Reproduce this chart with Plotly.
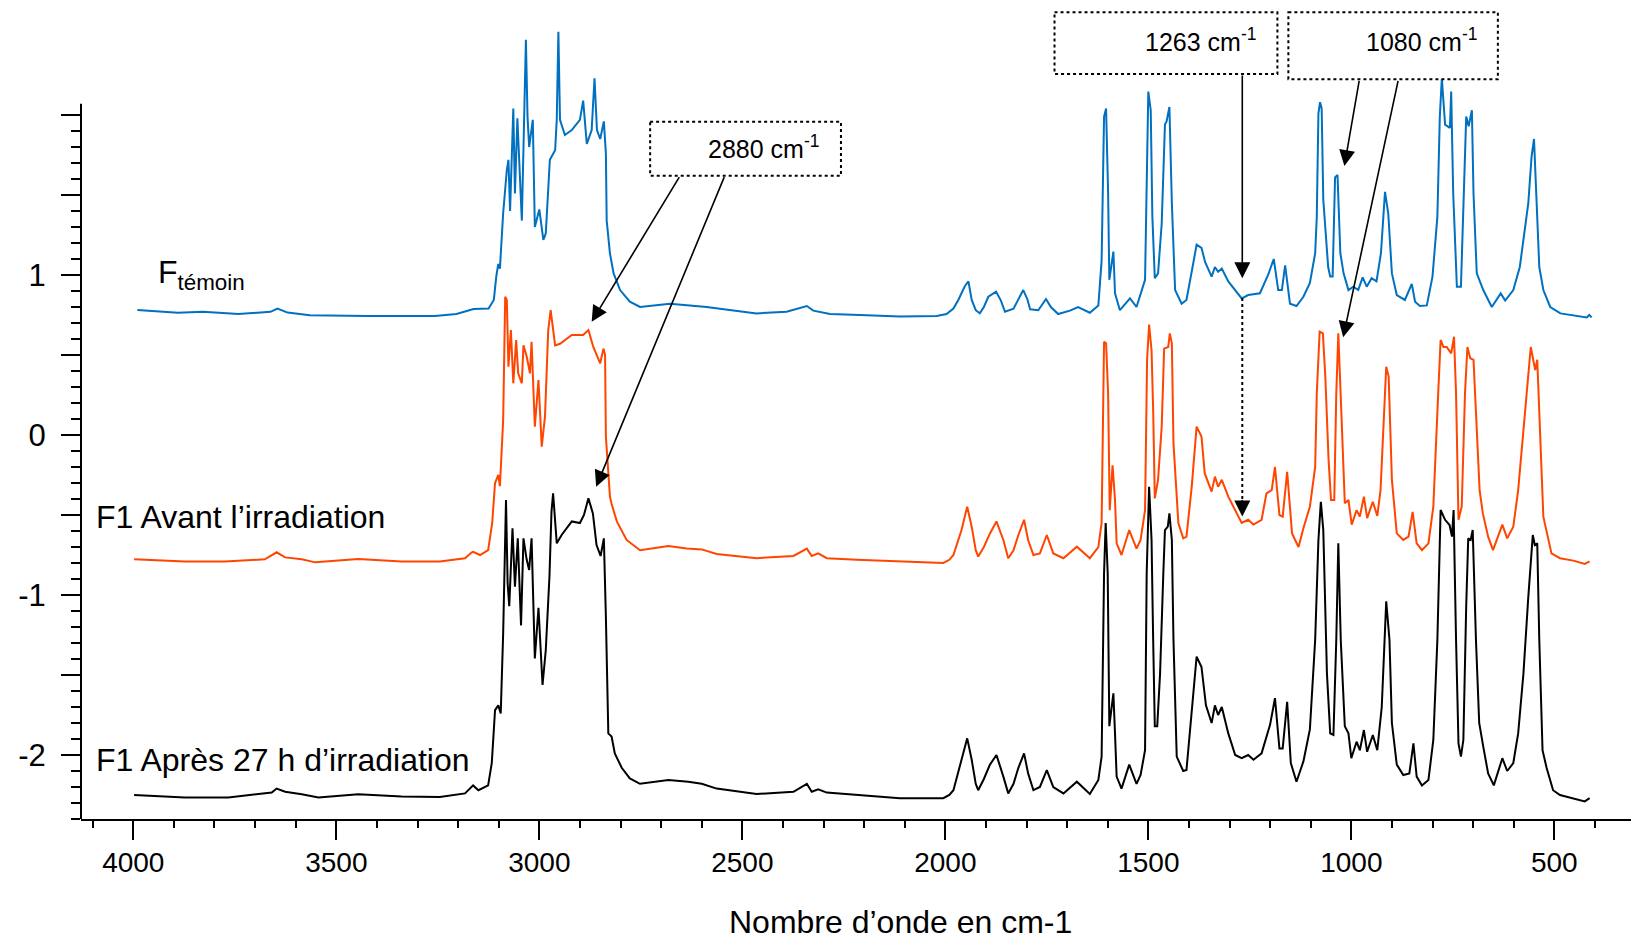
import plotly.graph_objects as go

# ---------------- data ----------------
wn_temoin = [3990, 3890, 3829, 3741, 3662, 3645, 3620, 3565, 3424, 3257, 3204, 3162, 3125, 3112, 3106,
             3101, 3097, 3089, 3080, 3076, 3072, 3064, 3060, 3054, 3043, 3033, 3029, 3025, 3016, 3011,
             3000, 2990, 2984, 2974, 2961, 2957, 2953, 2949, 2937, 2920, 2900, 2892, 2883, 2871, 2864,
             2858, 2850, 2841, 2836, 2834, 2826, 2817, 2801, 2777, 2752, 2678, 2588, 2465, 2391, 2341,
             2325, 2284, 2210, 2112, 2021, 1997, 1980, 1968, 1952, 1943, 1935, 1925, 1915, 1905, 1894, 1875,
             1863, 1853, 1832, 1818, 1808, 1798, 1791, 1771, 1752, 1740, 1722, 1693, 1673, 1644, 1623, 1615,
             1609, 1604, 1599, 1596, 1591,
             1586, 1582, 1570, 1545, 1529, 1508, 1504, 1500, 1494, 1490, 1484, 1476, 1467, 1459, 1455,
             1448, 1442, 1434, 1418, 1406, 1391, 1381, 1369, 1360, 1344, 1336, 1328, 1319, 1303, 1270,
             1254, 1225, 1205, 1191, 1180, 1171, 1163, 1151, 1135, 1118, 1102, 1089, 1085, 1081, 1077,
             1073, 1069, 1057, 1052, 1046, 1040, 1034, 1027, 1019, 1007, 995, 983, 972, 962, 950,
             938, 927, 917, 909, 900, 888, 868, 857, 851, 843, 831, 814, 800, 788, 782,
             777, 769, 757, 754, 749, 740, 730, 724, 717, 711, 703, 699, 691, 675, 654,
             632, 621, 601, 585, 564, 556, 550, 544, 537, 527, 510, 485, 447, 420, 414, 408]
abs_temoin = [0.781, 0.764, 0.77, 0.756, 0.77, 0.79, 0.765, 0.748, 0.744, 0.744, 0.756, 0.788, 0.79, 0.844, 0.99,
              1.07, 1.04, 1.386, 1.656, 1.72, 1.40, 2.04, 1.51, 1.98, 1.34, 2.47, 1.99, 1.80, 1.97, 1.30,
              1.41, 1.22, 1.26, 1.72, 1.78, 1.97, 2.52, 1.97, 1.875, 1.906, 1.97, 2.09, 1.82, 1.906, 2.23,
              1.906, 1.85, 1.96, 1.76, 1.34, 1.136, 1.01, 0.906, 0.833, 0.80, 0.82, 0.80, 0.76, 0.77, 0.806,
              0.777, 0.756, 0.75, 0.74, 0.744, 0.756, 0.79, 0.844, 0.93, 0.96, 0.844, 0.78, 0.76, 0.80, 0.864, 0.896,
              0.84, 0.77, 0.79, 0.86, 0.906, 0.85, 0.786, 0.78, 0.85, 0.80, 0.756, 0.777, 0.80, 0.764, 0.81, 1.09,
              1.99, 2.04, 1.51, 0.97, 1.05,
              1.146, 0.886, 0.78, 0.854, 0.80, 0.97, 1.51, 2.146, 2.03, 1.365, 0.98, 1.01, 1.32, 1.94, 1.96,
              2.05, 1.45, 0.906, 0.82, 0.844, 1.05, 1.19, 1.17, 1.08, 0.99, 1.05, 1.02, 1.04, 0.96, 0.854,
              0.875, 0.886, 1.0, 1.10, 0.906, 0.906, 1.06, 0.82, 0.806, 0.864, 0.95, 1.136, 1.365, 2.01, 2.08,
              2.04, 1.47, 1.05, 0.99, 0.99, 1.61, 1.625, 1.136, 1.01, 0.906, 0.927, 0.906, 0.985, 0.927, 0.98,
              0.96, 1.136, 1.52, 1.386, 1.01, 0.875, 0.844, 0.906, 0.944, 0.833, 0.806, 0.81, 0.99, 1.365, 1.99,
              2.23, 1.94, 1.92, 2.146, 1.51, 0.927, 0.927, 1.406, 1.99, 1.93, 2.03, 1.51, 1.01, 0.906, 0.80,
              0.885, 0.84, 0.906, 1.05, 1.45, 1.74, 1.85, 1.51, 1.05, 0.906, 0.80, 0.76, 0.744, 0.735, 0.75, 0.735]

wn_avant = [3998, 3873, 3774, 3676, 3647, 3626, 3585, 3552, 3446, 3339, 3245, 3183, 3167, 3163, 3146,
            3126, 3116, 3109, 3101, 3097, 3089, 3084, 3080, 3076, 3070, 3064, 3057, 3052, 3043, 3039,
            3031, 3023, 3019, 3011, 3002, 2994, 2986, 2978, 2972, 2961, 2949, 2920, 2892, 2879, 2867,
            2858, 2850, 2842, 2838, 2836, 2830, 2826, 2822, 2809, 2785, 2752, 2682, 2637, 2600, 2563,
            2465, 2374, 2341, 2329, 2313, 2292, 2218, 2112, 2005, 1990, 1980, 1960, 1946, 1935, 1925, 1919, 1905, 1890,
            1874, 1857, 1845, 1832, 1820, 1806, 1796, 1783, 1767, 1750, 1734, 1709, 1676, 1644, 1623, 1615,
            1609, 1604, 1599, 1595, 1588, 1582, 1578, 1566, 1547, 1529, 1519, 1508, 1503, 1498, 1492,
            1488, 1484, 1476, 1467, 1461, 1451, 1447, 1442, 1438, 1434, 1426, 1414, 1406, 1393, 1381,
            1369, 1361, 1344, 1336, 1328, 1319, 1303, 1291, 1270, 1254, 1241, 1221, 1209, 1196, 1188,
            1177, 1169, 1158, 1146, 1130, 1118, 1102, 1089, 1085, 1078, 1070, 1064, 1056, 1050, 1042,
            1037, 1032, 1026, 1016, 1007, 999, 987, 979, 969, 961, 947, 936, 928, 921, 914,
            908, 900, 888, 872, 859, 849, 839, 826, 810, 798, 786, 780, 773, 765, 754,
            747, 742, 736, 728, 720, 714, 707, 699, 692, 684, 676, 663, 651, 638, 628,
            616, 601, 589, 568, 558, 552, 547, 542, 535, 527, 507, 486, 453, 425, 413]
abs_avant = [-0.777, -0.79, -0.79, -0.777, -0.733, -0.765, -0.777, -0.796, -0.775, -0.79, -0.79, -0.77, -0.735, -0.73, -0.75,
             -0.72, -0.55, -0.30, -0.25, -0.32, 0.094, 0.864, 0.844, 0.427, 0.656, 0.323, 0.594, 0.385, 0.323, 0.56,
             0.49, 0.385, 0.583, 0.052, 0.344, -0.073, 0.115, 0.656, 0.78, 0.56, 0.57, 0.625, 0.625, 0.656, 0.55,
             0.49, 0.448, 0.54, 0.50, -0.01, -0.22, -0.385, -0.43, -0.54, -0.656, -0.72, -0.694, -0.71, -0.715, -0.744,
             -0.77, -0.756, -0.71, -0.756, -0.74, -0.77, -0.78, -0.79, -0.80, -0.78, -0.75, -0.594, -0.448, -0.573, -0.72, -0.76, -0.70, -0.615,
             -0.54, -0.656, -0.77, -0.72, -0.625, -0.53, -0.656, -0.75, -0.74, -0.625, -0.74, -0.77, -0.698, -0.77, -0.70, -0.55,
             0.583, 0.573, 0.26, -0.47, -0.19, -0.406, -0.677, -0.75, -0.594, -0.71, -0.656, -0.47, 0.47, 0.69, 0.53,
             0.156, -0.396, -0.28, 0.052, 0.54, 0.55, 0.635, 0.573, -0.05, -0.24, -0.55, -0.646, -0.635, -0.323, 0.052,
             -0.01, -0.24, -0.354, -0.26, -0.323, -0.28, -0.385, -0.448, -0.55, -0.53, -0.56, -0.53, -0.365, -0.344, -0.2,
             -0.5, -0.51, -0.23, -0.615, -0.70, -0.583, -0.448, -0.2, 0.26, 0.646, 0.635, 0.365, -0.156, -0.406, -0.406,
             0.26, 0.635, 0.26, -0.427, -0.406, -0.56, -0.47, -0.51, -0.385, -0.52, -0.417, -0.506, -0.344, 0.052, 0.427,
             0.365, -0.28, -0.615, -0.656, -0.635, -0.48, -0.677, -0.72, -0.677, -0.448, 0.26, 0.594, 0.55, 0.55, 0.51,
             0.614, 0.26, -0.53, -0.448, 0.26, 0.55, 0.48, 0.47, 0.052, -0.344, -0.49, -0.635, -0.72, -0.635, -0.56,
             -0.646, -0.573, -0.344, 0.26, 0.55, 0.47, 0.406, 0.47, 0.052, -0.51, -0.74, -0.77, -0.785, -0.806, -0.79]

wn_apres = [3998, 3873, 3766, 3659, 3647, 3626, 3585, 3544, 3446, 3339, 3245, 3183, 3163, 3150, 3126,
            3117, 3109, 3101, 3095, 3089, 3082, 3078, 3074, 3066, 3060, 3053, 3045, 3039, 3031, 3025,
            3019, 3011, 3002, 2992, 2984, 2975, 2970, 2966, 2957, 2945, 2920, 2900, 2890, 2879, 2868,
            2859, 2849, 2841, 2836, 2830, 2822, 2814, 2797, 2777, 2752, 2682, 2633, 2600, 2563, 2465,
            2374, 2341, 2329, 2313, 2292, 2218, 2112, 2005, 1990, 1980, 1960, 1946, 1935, 1925, 1919, 1905, 1890, 1874,
            1857, 1845, 1832, 1820, 1806, 1796, 1783, 1767, 1750, 1734, 1709, 1676, 1644, 1623, 1615, 1609,
            1605, 1600, 1596, 1590, 1586, 1582, 1578, 1566, 1547, 1529, 1519, 1508, 1504, 1498, 1492,
            1488, 1484, 1478, 1471, 1463, 1459, 1452, 1448, 1442, 1438, 1430, 1414, 1406, 1393, 1381,
            1369, 1358, 1344, 1336, 1328, 1319, 1303, 1286, 1270, 1254, 1241, 1221, 1200, 1188, 1177,
            1169, 1158, 1149, 1135, 1118, 1102, 1089, 1081, 1075, 1069, 1060, 1052, 1044, 1037, 1032,
            1026, 1016, 1007, 1000, 987, 979, 969, 961, 947, 936, 925, 914, 906, 900, 888,
            872, 857, 847, 839, 826, 810, 798, 788, 780, 769, 758, 752, 748, 742, 736,
            730, 724, 717, 712, 706, 701, 693, 685, 675, 663, 649, 638, 628, 616, 601,
            589, 576, 564, 553, 548, 542, 537, 529, 519, 503, 486, 453, 425, 413]
abs_apres = [-2.25, -2.265, -2.265, -2.235, -2.21, -2.23, -2.245, -2.265, -2.245, -2.26, -2.262, -2.24, -2.19, -2.22, -2.19,
             -2.05, -1.72, -1.69, -1.74, -1.24, -0.406, -0.927, -1.07, -0.583, -0.948, -0.646, -1.19, -0.646, -0.78, -0.844,
             -0.646, -1.396, -1.08, -1.5625, -1.344, -0.885, -0.48, -0.365, -0.677, -0.625, -0.54, -0.55, -0.50, -0.396, -0.49,
             -0.6875, -0.756, -0.646, -1.136, -1.865, -1.885, -1.99, -2.08, -2.146, -2.18, -2.156, -2.167, -2.18, -2.21, -2.244,
             -2.23, -2.18, -2.23, -2.215, -2.235, -2.25, -2.27, -2.27, -2.25, -2.22, -2.03, -1.896, -2.03, -2.18, -2.22, -2.15, -2.06, -2.0,
             -2.135, -2.24, -2.18, -2.08, -1.99, -2.115, -2.22, -2.2, -2.094, -2.2, -2.24, -2.167, -2.244, -2.156, -2.01, -0.865,
             -0.55, -0.865, -1.82, -1.70, -1.615, -1.865, -2.135, -2.21, -2.06, -2.18, -2.125, -1.97, -0.865, -0.323, -0.656,
             -1.28, -1.82, -1.82, -1.49, -0.865, -0.594, -0.573, -0.49, -0.656, -1.28, -2.01, -2.1, -2.094, -1.72, -1.385,
             -1.45, -1.69, -1.80, -1.69, -1.75, -1.70, -1.865, -2.0, -2.02, -2.0, -2.03, -1.99, -1.81, -1.645, -1.96,
             -1.96, -1.667, -2.05, -2.167, -2.04, -1.84, -1.28, -0.656, -0.417, -0.594, -1.49, -1.865, -1.875, -1.28, -0.677,
             -1.28, -1.82, -1.865, -2.02, -1.917, -1.97, -1.844, -1.98, -1.875, -1.97, -1.70, -1.04, -1.28, -1.80, -2.06,
             -2.125, -2.115, -1.927, -2.135, -2.19, -2.156, -1.906, -1.28, -0.469, -0.53, -0.5625, -0.635, -0.469, -1.28, -1.927,
             -2.01, -1.906, -1.07, -0.646, -0.656, -0.594, -1.28, -1.80, -1.948, -2.115, -2.19, -2.094, -2.02, -2.10, -2.05,
             -1.865, -1.49, -1.01, -0.625, -0.6875, -0.677, -1.28, -1.97, -2.08, -2.22, -2.25, -2.27, -2.29, -2.27]

x_major_ticks = [4000, 3500, 3000, 2500, 2000, 1500, 1000, 500]
y_major_ticks = [-2, -1.5, -1, -0.5, 0, 0.5, 1, 1.5, 2]
y_tick_text = ["-2", " ", "-1", " ", "0", " ", "1", " ", " "]

series_labels = ["F<sub>témoin</sub>", "F1 Avant l\u2019irradiation", "F1 Après 27 h d\u2019irradiation"]
series_colors = ["#0070C0", "#FF4500", "#000000"]

# annotation geometry (data units)
box_2880 = [2727, 2257, 1.958, 1.621]
box_1263 = [1731, 1182, 2.642, 2.256]
box_1080 = [1155, 639, 2.642, 2.223]

X_RANGE = [4128.8, 311.1]
Y_RANGE = [-2.4, 2.71875]

fig = go.Figure()
for wn, ab, col in [(wn_temoin, abs_temoin, series_colors[0]),
                    (wn_avant, abs_avant, series_colors[1]),
                    (wn_apres, abs_apres, series_colors[2])]:
    fig.add_trace(go.Scatter(x=wn, y=ab, mode="lines", line=dict(color=col, width=2),
                             showlegend=False, hoverinfo="skip"))

FONT = "Liberation Sans, Arial, sans-serif"

fig.update_layout(
    width=1631, height=941,
    margin=dict(l=81, r=0, t=0, b=122),
    plot_bgcolor="white", paper_bgcolor="white",
    font=dict(family=FONT, color="black"),
)
fig.update_xaxes(
    range=X_RANGE, tickmode="array", tickvals=x_major_ticks,
    ticks="outside", ticklen=19, tickwidth=2, tickcolor="black",
    showline=True, linewidth=2, linecolor="black", mirror=False,
    showgrid=False, zeroline=False,
    tickfont=dict(size=28, family=FONT), ticklabelstandoff=-2,
    minor=dict(tickmode="array", tickvals=list(range(4100, 300, -100)),
               ticks="outside", ticklen=7, tickwidth=1.5, tickcolor="black", showgrid=False),
)
fig.update_yaxes(
    range=Y_RANGE, tickmode="array", tickvals=y_major_ticks, ticktext=y_tick_text,
    ticks="outside", ticklen=19, tickwidth=2, tickcolor="black",
    showline=False, showgrid=False, zeroline=False,
    tickfont=dict(size=31, family=FONT), ticklabelstandoff=9,
    minor=dict(tickmode="array", tickvals=[round(-2.4 + 0.1 * i, 1) for i in range(45)],
               ticks="outside", ticklen=9, tickwidth=1.5, tickcolor="black", showgrid=False),
)

shapes = []
# y axis line (stops below the top of the plot)
shapes.append(dict(type="line", xref="paper", yref="y", x0=0, x1=0, y0=Y_RANGE[0], y1=2.07,
                   line=dict(color="black", width=2)))
for b in (box_2880, box_1263, box_1080):
    shapes.append(dict(type="rect", xref="x", yref="y", x0=b[0], x1=b[1], y0=b[2], y1=b[3],
                       line=dict(color="black", width=2, dash="dot"), fillcolor="white", layer="above"))
# dotted guide 1263
shapes.append(dict(type="line", xref="x", yref="y", x0=1268.5, x1=1268.5, y0=0.856, y1=-0.40,
                   line=dict(color="black", width=2, dash="dot")))
fig.update_layout(shapes=shapes)

ann = []
arrow_common = dict(xref="x", yref="y", axref="x", ayref="y", showarrow=True, arrowhead=2,
                    arrowsize=2.0, arrowwidth=1.6, arrowcolor="black", standoff=0, text="")
arrows = [((2871, 0.708), (2653, 1.621)),
          ((2860, -0.323), (2543, 1.621)),
          ((1268.5, 0.979), (1268.5, 2.256)),
          ((1017, 1.681), (980, 2.223)),
          ((1020, 0.611), (884, 2.223))]
for (tip, tail) in arrows:
    ann.append(dict(x=tip[0], y=tip[1], ax=tail[0], ay=tail[1], **arrow_common))
# arrowhead at end of dotted guide
ann.append(dict(x=1268.5, y=-0.51, xref="x", yref="y", ax=0, ay=-18, showarrow=True, arrowhead=2,
                arrowsize=2.0, arrowwidth=1.6, arrowcolor="black", standoff=0, text=""))

box_font = dict(family=FONT, size=25, color="black")
ann.append(dict(x=2305, y=1.80, xref="x", yref="y", text="2880 cm<sup>-1</sup>", showarrow=False,
                xanchor="right", yanchor="middle", font=box_font))
ann.append(dict(x=1230, y=2.47, xref="x", yref="y", text="1263 cm<sup>-1</sup>", showarrow=False,
                xanchor="right", yanchor="middle", font=box_font))
ann.append(dict(x=685, y=2.47, xref="x", yref="y", text="1080 cm<sup>-1</sup>", showarrow=False,
                xanchor="right", yanchor="middle", font=box_font))

label_font = dict(family=FONT, size=32, color="black")
ann.append(dict(x=0.0485, y=0.6654, xref="paper", yref="paper", text=series_labels[0], showarrow=False,
                xanchor="left", yanchor="middle", font=label_font))
ann.append(dict(x=0.0085, y=0.3687, xref="paper", yref="paper", text=series_labels[1], showarrow=False,
                xanchor="left", yanchor="middle", font=label_font))
ann.append(dict(x=0.0085, y=0.072, xref="paper", yref="paper", text=series_labels[2], showarrow=False,
                xanchor="left", yanchor="middle", font=label_font))
ann.append(dict(x=0.5284, y=-0.1258, xref="paper", yref="paper", text="Nombre d\u2019onde en cm-1",
                showarrow=False, xanchor="center", yanchor="middle", font=dict(family=FONT, size=32, color="black")))
fig.update_layout(annotations=ann)

fig.write_html("out.html")
